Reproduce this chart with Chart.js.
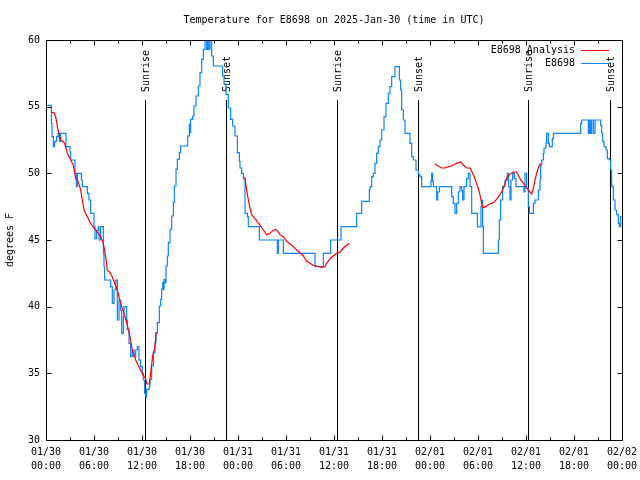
<!DOCTYPE html>
<html><head><meta charset="utf-8">
<script src="https://cdn.jsdelivr.net/npm/chart.js@4.4.1/dist/chart.umd.min.js"></script>
<style>html,body{margin:0;padding:0;background:#fff}</style>
</head><body>
<canvas id="c" width="640" height="480"></canvas>
<script>
const chartTitle = 'Temperature for E8698 on 2025-Jan-30 (time in UTC)';
const yAxisTitle = 'degrees F';
const legendLabels = ['E8698 Analysis', 'E8698'];
const xTickLabels = [
  ['01/30','00:00'],['01/30','06:00'],['01/30','12:00'],['01/30','18:00'],
  ['01/31','00:00'],['01/31','06:00'],['01/31','12:00'],['01/31','18:00'],
  ['02/01','00:00'],['02/01','06:00'],['02/01','12:00'],['02/01','18:00'],
  ['02/02','00:00']
];
const sunHours  = [12.375, 22.5, 36.42, 46.54, 60.29, 70.5];
const sunLabels = ['Sunrise','Sunset','Sunrise','Sunset','Sunrise','Sunset'];

// observed temperatures (hours since 01/30 00:00 UTC, degrees F)
const obsHours = [0.17,0.67,0.75,0.92,1.08,1.33,1.5,1.67,1.83,2.5,3.0,3.08,3.625,3.79,3.92,4.42,4.54,5.17,5.375,5.58,6.0,6.125,6.33,6.54,6.625,6.83,7.17,7.25,7.33,8.08,8.29,8.5,8.71,8.92,9.125,9.33,9.46,9.67,9.75,10.08,10.17,10.375,10.58,10.79,11.0,11.21,11.42,11.625,11.83,12.04,12.17,12.33,12.46,12.58,12.92,13.0,13.21,13.42,13.625,13.75,13.92,14.17,14.33,14.46,14.58,14.67,14.75,14.875,15.0,15.17,15.29,15.5,15.71,15.92,16.04,16.25,16.42,16.67,16.83,17.71,17.92,18.0,18.08,18.33,18.5,18.75,19.04,19.25,19.46,19.67,19.875,20.08,20.21,20.375,20.5,20.71,20.92,22.08,22.25,22.5,22.79,23.08,23.33,23.625,23.92,24.17,24.25,24.46,24.67,24.875,25.17,25.29,26.67,28.92,29.04,29.67,33.625,34.67,35.58,36.875,38.83,39.46,40.42,40.5,40.71,40.92,41.125,41.33,41.54,41.75,41.96,42.25,42.5,42.79,43.0,43.21,43.625,44.17,44.33,44.46,44.67,44.875,45.5,45.71,45.92,46.25,46.54,46.75,46.96,48.125,48.21,48.33,48.42,48.83,48.96,49.17,50.71,50.92,51.125,51.33,51.54,51.75,51.96,52.08,52.25,52.58,52.79,53.0,53.21,53.92,54.375,54.5,54.58,54.67,56.54,56.67,56.83,57.08,57.375,57.67,57.83,58.0,58.125,58.33,58.54,58.75,59.75,59.875,60.08,60.29,60.42,60.92,61.125,61.54,61.75,61.83,61.96,62.17,62.25,62.5,62.58,62.79,62.92,63.29,63.42,66.83,66.96,67.79,67.92,68.08,68.21,68.42,68.625,69.33,69.46,69.58,69.75,70.0,70.17,70.42,70.58,70.71,70.92,71.125,71.33,71.54,71.67,71.83,71.92];
const obsTemps = [55.1,53.75,52.75,52,52.4,52.75,53,52.4,53,52,51.6,51,50,49,50,49.5,49,48.5,48,47,46,45.1,45.75,46,45,46,44,43,42,41.5,40.25,41.25,42,39,40.5,39.75,38,39.25,40,39,38.25,37.25,36.25,36.75,36.25,36.75,37,36,35.5,35,34.5,33.5,33.2,33.8,34.05,34.55,35.55,36.55,37.3,38.05,38.8,40.05,40.55,41.3,41.8,41.3,42.05,41.8,43.05,43.8,44.8,45.8,46.8,47.8,49.05,50.3,51.05,51.55,52.05,52.8,53.7,53.05,54.05,54.3,55.05,55.8,56.55,57.55,58.55,59.3,60,59.3,60,59.3,60,58.8,58.05,57.3,56.7,55.9,54.9,54.05,53.55,52.8,51.55,50.9,50.4,50,49.6,47,46.75,46,45,44,45,44,43,44,45,46,47,47.9,48.75,49,49.75,50,50.75,51.5,52,52.5,53.25,54.25,55.25,56,56.5,57.25,58,57,56.25,54.75,54,53,52.25,51.25,51,50.25,49.9,49.75,49,49.4,50,49.4,49,48,48.6,49,48.25,47.75,47,47.75,48.6,49,48.7,48,49,49.6,50,49,47,46,47.5,48,46,44,45,46.5,48,49,49.5,50,49,48,49.5,50,49.6,49,48.6,50,48.9,47.5,47,47.75,48,48.75,49.5,50.6,51,51.5,51.9,52.25,53,52.25,52,52.6,53,53.75,54,53,54,53,54,53,54,53.6,53,52.4,52,51.75,51.1,51,50.25,49,48,47.25,46.9,46.25,46,46.75,46.75];

// analysis temperatures (null = no analysis)
const anaHours = [0.7,1.0,1.21,1.42,1.625,1.83,2.04,2.33,2.67,3.08,3.42,3.71,3.92,4.33,4.54,4.75,5.17,5.58,6.0,6.42,6.83,7.17,7.46,7.67,8.08,8.5,8.92,9.33,9.75,10.17,10.5,10.79,11.21,11.625,12.04,12.46,12.6,12.92,13.08,13.33,13.625,13.75,13.92,
  19,
  24.67,24.875,25.08,25.29,25.5,25.71,25.92,26.33,26.75,27.17,27.58,28.0,28.42,28.75,29.04,29.25,29.67,30.08,30.5,30.92,31.33,31.75,32.17,32.58,33.0,33.42,33.83,34.46,34.875,35.08,35.5,35.92,36.33,36.75,37.17,37.58,37.92,
  43,
  48.625,49.04,49.46,49.875,50.29,50.71,51.125,51.54,51.83,52.17,52.58,53.0,53.42,53.83,54.17,54.375,54.58,54.875,55.21,55.5,55.92,56.33,56.75,57.08,57.375,57.67,58.0,58.42,58.83,59.25,59.67,60.08,60.5,60.71,60.92,61.125,61.33,61.54,61.75,61.875];
const anaTemps = [54.55,54.55,54.25,53.5,53,52.5,52.4,52.25,51.5,51,50.6,49.6,49.55,48.75,48,47.25,46.75,46.25,45.9,45.6,45.25,44.75,43.75,42.75,42.5,41.9,41.25,40.25,39.5,38.6,37.75,36.75,36,35.5,35,34.6,34.2,34.2,35,36.3,37,38,38,
  null,
  49.7,49.6,48.75,48,47.4,46.9,46.75,46.45,46.1,45.75,45.4,45.5,45.75,45.8,45.6,45.4,45.25,44.9,44.7,44.5,44.25,44.05,43.8,43.4,43.25,43.1,43.05,42.95,43,43.25,43.6,43.8,44,44.1,44.4,44.6,44.75,
  null,
  50.7,50.55,50.4,50.4,50.5,50.55,50.7,50.8,50.85,50.6,50.4,50.4,49.9,49.25,48.6,48,47.45,47.45,47.6,47.7,47.8,48.05,48.4,48.75,49.25,49.75,49.95,50.1,50.1,49.6,49.25,48.9,48.6,48.45,48.9,49.5,50,50.4,50.7,50.7];

const FONT = '"DejaVu Sans Mono", "Liberation Mono", monospace';
const RED = '#ff0000', BLUE = '#0a84ff';

const toPts = (xs, ys) => xs.map((h, i) => ({x: h, y: ys[i]}));

const gnuFrame = {
  id: 'gnuFrame',
  beforeDraw(chart) {
    const ctx = chart.ctx;
    ctx.save(); ctx.fillStyle = '#fff'; ctx.fillRect(0, 0, chart.width, chart.height); ctx.restore();
  },
  beforeDatasetsDraw(chart) {
    const {ctx, chartArea: a, scales: {x}} = chart;
    ctx.save();
    ctx.strokeStyle = '#000'; ctx.fillStyle = '#000'; ctx.lineWidth = 1;
    ctx.font = '10px ' + FONT;
    sunHours.forEach((h, i) => {
      const px = Math.round(x.getPixelForValue(h)) + 0.5;
      ctx.beginPath(); ctx.moveTo(px, a.top + 60); ctx.lineTo(px, a.bottom); ctx.stroke();
      ctx.save();
      ctx.translate(px + 1, a.top + 52);
      ctx.rotate(-Math.PI / 2);
      ctx.textAlign = 'left'; ctx.textBaseline = 'middle';
      ctx.fillText(sunLabels[i], 0, 0);
      ctx.restore();
    });
    ctx.restore();
  },
  afterDraw(chart) {
    const {ctx, chartArea: a, scales: {x, y}} = chart;
    ctx.save();
    ctx.strokeStyle = '#000'; ctx.fillStyle = '#000'; ctx.lineWidth = 1;
    const L = Math.round(a.left) + 0.5, R = Math.round(a.right) + 0.5;
    const T = Math.round(a.top) + 0.5, B = Math.round(a.bottom) + 0.5;
    ctx.beginPath();
    for (let h = 0; h <= 72; h += 3) {
      const px = Math.round(x.getPixelForValue(h)) + 0.5;
      const len = (h % 6 === 0) ? 5 : 3;
      ctx.moveTo(px, B); ctx.lineTo(px, B - len);
      ctx.moveTo(px, T); ctx.lineTo(px, T + len);
    }
    for (let v = 30; v <= 60; v += 5) {
      const py = Math.round(y.getPixelForValue(v)) + 0.5;
      ctx.moveTo(L, py); ctx.lineTo(L + 5, py);
      ctx.moveTo(R, py); ctx.lineTo(R - 5, py);
    }
    ctx.rect(L, T, R - L, B - T);
    ctx.stroke();

    ctx.font = '10px ' + FONT;
    ctx.textBaseline = 'middle';
    ctx.textAlign = 'center';
    ctx.fillText(chartTitle, (a.left + a.right) / 2, 20);
    ctx.save();
    ctx.translate(10, (a.top + a.bottom) / 2);
    ctx.rotate(-Math.PI / 2);
    ctx.fillText(yAxisTitle, 0, 0);
    ctx.restore();

    const colors = [RED, BLUE];
    legendLabels.forEach((lab, i) => {
      const ly = a.top + 10 + i * 13;
      ctx.fillStyle = '#000'; ctx.textAlign = 'right';
      ctx.fillText(lab, a.right - 47, ly);
      ctx.strokeStyle = colors[i];
      ctx.beginPath(); ctx.moveTo(a.right - 41, Math.round(ly) + 0.5); ctx.lineTo(a.right - 13, Math.round(ly) + 0.5); ctx.stroke();
    });
    ctx.restore();
  }
};

new Chart(document.getElementById('c'), {
  type: 'line',
  data: {
    datasets: [
      { label: legendLabels[0], data: toPts(anaHours, anaTemps), borderColor: RED, borderWidth: 1.2, pointRadius: 0, spanGaps: false, tension: 0 },
      { label: legendLabels[1], data: toPts(obsHours, obsTemps), borderColor: BLUE, borderWidth: 1.2, pointRadius: 0, stepped: true }
    ]
  },
  options: {
    responsive: false, animation: false,
    layout: { padding: { left: 0, right: 18, top: 40, bottom: 0 } },
    plugins: { legend: { display: false }, tooltip: { enabled: false }, title: { display: false } },
    scales: {
      x: {
        type: 'linear', min: 0, max: 72,
        afterFit(s) { s.height = 40; s.paddingLeft = 0; s.paddingRight = 0; },
        grid: { display: false, drawTicks: false }, border: { display: false },
        ticks: { stepSize: 6, autoSkip: false, maxRotation: 0, padding: 5, color: '#000',
          font: { family: FONT, size: 10, lineHeight: 1.4 },
          callback: (v) => xTickLabels[Math.round(v / 6)] }
      },
      y: {
        min: 30, max: 60,
        afterFit(s) { s.width = 46; s.paddingTop = 0; s.paddingBottom = 0; },
        grid: { display: false, drawTicks: false }, border: { display: false },
        ticks: { stepSize: 5, padding: 6, color: '#000', font: { family: FONT, size: 10 } }
      }
    }
  },
  plugins: [gnuFrame]
});
</script>
</body></html>
